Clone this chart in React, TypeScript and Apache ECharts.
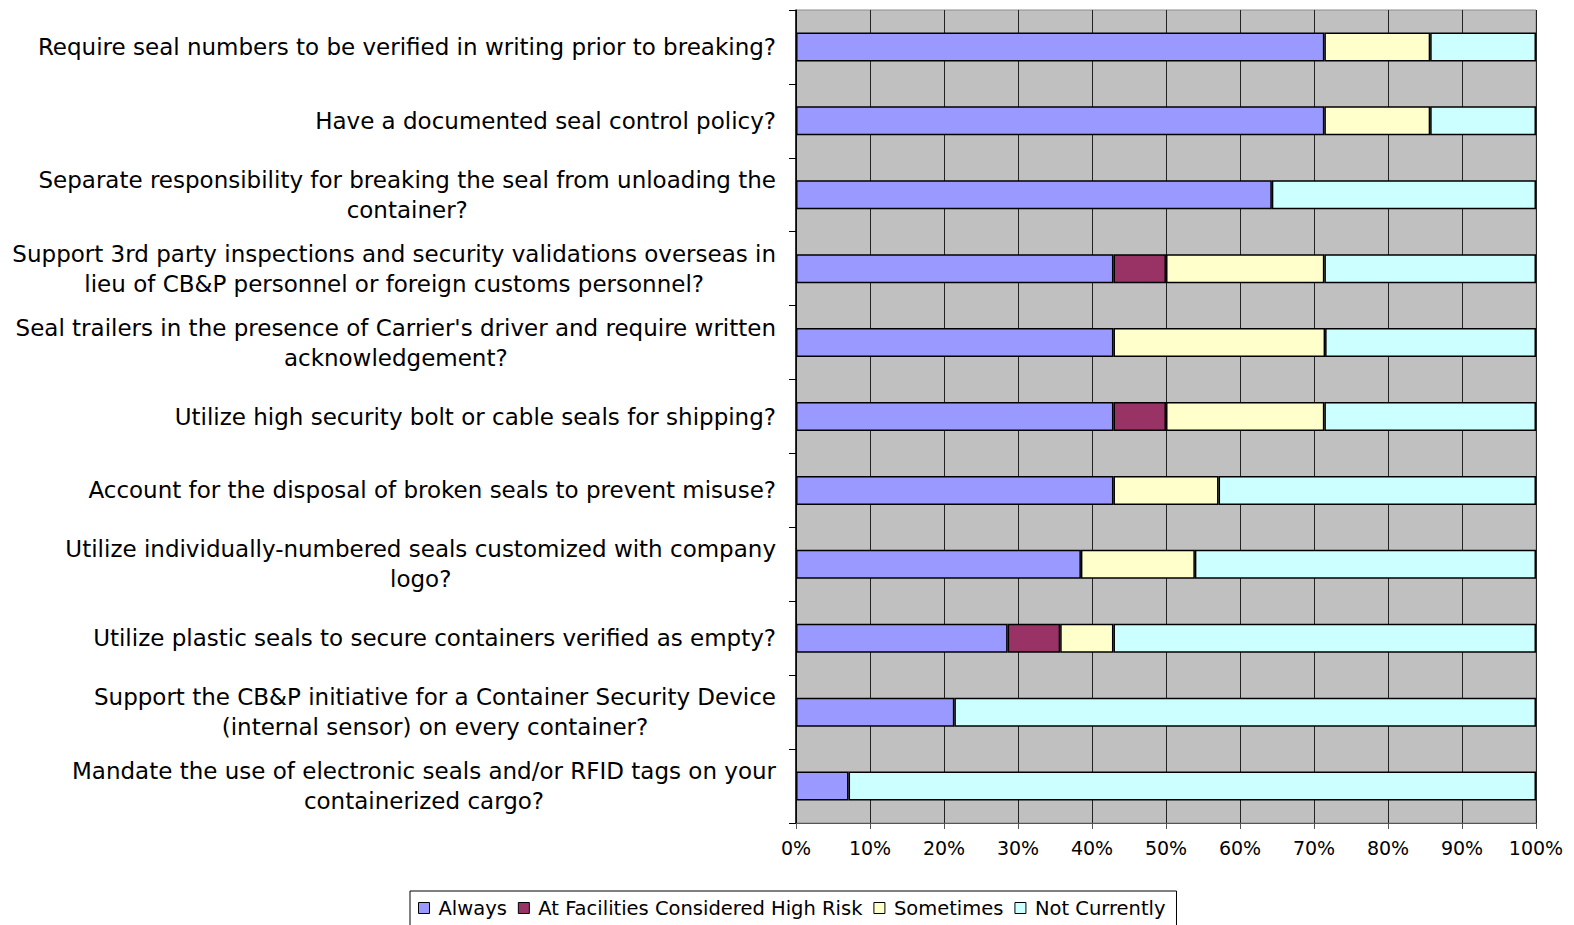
import React, { useEffect, useRef } from "react";
import * as echarts from "echarts";

const categories = [
  "Require seal numbers to be verified in writing prior to breaking?",
  "Have a documented seal control policy?",
  "Separate responsibility for breaking the seal from unloading the\ncontainer?",
  "Support 3rd party inspections and security validations overseas in\nlieu of CB&P personnel or foreign customs personnel?",
  "Seal trailers in the presence of Carrier's driver and require written\nacknowledgement?",
  "Utilize high security bolt or cable seals for shipping?",
  "Account for the disposal of broken seals to prevent misuse?",
  "Utilize individually-numbered seals customized with company\nlogo?",
  "Utilize plastic seals to secure containers verified as empty?",
  "Support the CB&P initiative for a Container Security Device\n(internal sensor) on every container?",
  "Mandate the use of electronic seals and/or RFID tags on your\ncontainerized cargo?",
];

const always = [71.4, 71.4, 64.3, 42.9, 42.9, 42.9, 42.9, 38.5, 28.6, 21.4, 7.1];
const highRisk = [0, 0, 0, 7.1, 0, 7.1, 0, 0, 7.1, 0, 0];
const sometimes = [14.3, 14.3, 0, 21.4, 28.6, 21.4, 14.2, 15.4, 7.2, 0, 0];
const notCurrently = [14.3, 14.3, 35.7, 28.6, 28.5, 28.6, 42.9, 46.1, 57.1, 78.6, 92.9];

const seriesNames = ["Always", "At Facilities Considered High Risk", "Sometimes", "Not Currently"];
const seriesColors = ["#9999FF", "#993366", "#FFFFCC", "#CCFFFF"];
const xTicks = [0, 10, 20, 30, 40, 50, 60, 70, 80, 90, 100];

const FONT = "'DejaVu Sans', 'Liberation Sans', Arial, sans-serif";

export default function App() {
  const ref = useRef<HTMLDivElement>(null);
  useEffect(() => {
    if (!ref.current) return;
    const chart = echarts.init(ref.current, undefined, { renderer: "svg" });
    const values = [always, highRisk, sometimes, notCurrently];
    chart.setOption({
      animation: false,
      backgroundColor: "#ffffff",
      textStyle: { fontFamily: FONT },
      grid: {
        left: 796,
        right: 38,
        top: 10,
        height: 813,
        show: true,
        backgroundColor: "#C0C0C0",
        borderColor: "#8c8c8c",
        borderWidth: 1,
      },
      legend: {
        data: seriesNames,
        left: 410,
        top: 891,
        padding: [7, 11, 30, 8],
        borderColor: "#000",
        borderWidth: 1,
        backgroundColor: "#fff",
        icon: "rect",
        itemWidth: 11,
        itemHeight: 11,
        itemGap: 11,
        itemStyle: { borderColor: "#000", borderWidth: 1 },
        textStyle: { fontSize: 19.5, color: "#000", fontFamily: FONT, padding: [0, 0, 0, 4] },
      },
      xAxis: {
        type: "value",
        min: xTicks[0],
        max: xTicks[xTicks.length - 1],
        interval: xTicks[1] - xTicks[0],
        axisLine: { show: true, lineStyle: { color: "#555", width: 1 } },
        axisTick: { show: true, length: 6, lineStyle: { color: "#555" } },
        axisLabel: { formatter: "{value}%", fontSize: 19, color: "#000", margin: 15, fontFamily: FONT },
        splitLine: { show: true, lineStyle: { color: "#222", width: 1 } },
      },
      yAxis: {
        type: "category",
        data: categories,
        inverse: true,
        axisLine: { show: true, lineStyle: { color: "#000", width: 1.5 } },
        axisTick: { show: true, length: 7, lineStyle: { color: "#000" } },
        splitLine: { show: false },
        axisLabel: {
          margin: 20,
          fontSize: 23,
          color: "#000",
          fontFamily: FONT,
          lineHeight: 30,
          formatter: (v: string) => v.split("\n").map((l) => "{c|" + l + "}").join("\n"),
          rich: {
            c: { align: "center", fontSize: 23, lineHeight: 30, color: "#000", fontFamily: FONT },
          },
        },
      },
      series: seriesNames.map((name, i) => ({
        name,
        type: "bar",
        stack: "total",
        barWidth: 29,
        data: values[i].map((v) => (v === 0 ? null : v)),
        itemStyle: { color: seriesColors[i], borderColor: "#000", borderWidth: 1.5 },
        emphasis: { disabled: true },
      })),
    });
    return () => chart.dispose();
  }, []);
  return (
    <div
      ref={ref}
      style={{ position: "fixed", left: 0, top: 0, width: 1574, height: 925 }}
    />
  );
}
